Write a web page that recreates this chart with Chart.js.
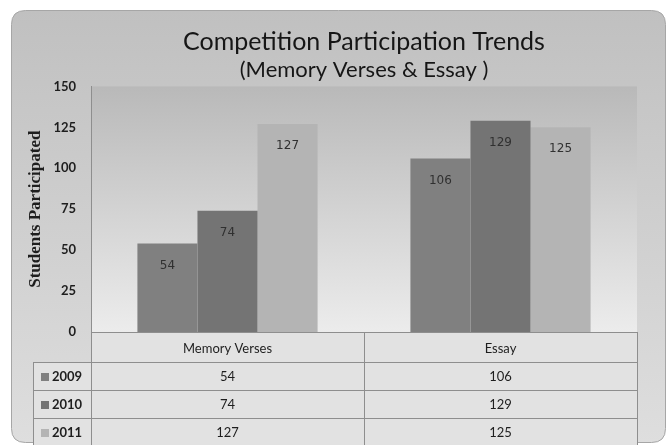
<!DOCTYPE html>
<html>
<head>
<meta charset="utf-8">
<script src="https://cdn.jsdelivr.net/npm/chart.js@4.4.0/dist/chart.umd.min.js"></script>
<style>
html, body { margin: 0; padding: 0; background: #fff; }
</style>
</head>
<body>
<canvas id="myChart" width="667" height="445"></canvas>
<script>
// chart values
const categories = ["Memory Verses", "Essay"];
const years = ["2009", "2010", "2011"];
const values2009 = [54, 106];
const values2010 = [74, 129];
const values2011 = [127, 125];
const yTicks = [0, 25, 50, 75, 100, 125, 150];

const barColors = ["#808080", "#747474", "#b4b4b4"];
const ROW_H = 28;

Chart.defaults.font.family = "Lato";

function roundRect(ctx, x, y, w, h, r) {
    ctx.beginPath();
    ctx.moveTo(x + r, y);
    ctx.lineTo(x + w - r, y);
    ctx.quadraticCurveTo(x + w, y, x + w, y + r);
    ctx.lineTo(x + w, y + h - r);
    ctx.quadraticCurveTo(x + w, y + h, x + w - r, y + h);
    ctx.lineTo(x + r, y + h);
    ctx.quadraticCurveTo(x, y + h, x, y + h - r);
    ctx.lineTo(x, y + r);
    ctx.quadraticCurveTo(x, y, x + r, y);
    ctx.closePath();
}

// background frame + plot area gradient + table cell fill
const backdrop = {
    id: "backdrop",
    beforeDraw(chart) {
        const ctx = chart.ctx, a = chart.chartArea, xs = chart.scales.x;
        ctx.save();
        ctx.fillStyle = "#fff";
        ctx.fillRect(0, 0, chart.width, chart.height);

        let g = ctx.createLinearGradient(0, 10, 0, 443);
        g.addColorStop(0, "#c0c0c0");
        g.addColorStop(1, "#dedede");
        roundRect(ctx, 11.5, 10.5, 654, 432, 14);
        ctx.fillStyle = g;
        ctx.fill();
        ctx.strokeStyle = "#a6a6a6";
        ctx.lineWidth = 1;
        ctx.stroke();

        g = ctx.createLinearGradient(0, a.top, 0, a.bottom);
        g.addColorStop(0, "#b9b9b9");
        g.addColorStop(1, "#ececec");
        ctx.fillStyle = g;
        ctx.fillRect(a.left, a.top, a.right - a.left, a.bottom - a.top);

        // table cells
        ctx.fillStyle = "#e2e2e2";
        ctx.fillRect(a.left, xs.top, a.right - a.left, xs.bottom - xs.top);
        ctx.fillRect(33, xs.bottom, a.right - 33, ROW_H * years.length);
        ctx.restore();
    },
    afterDraw(chart) {
        const ctx = chart.ctx, a = chart.chartArea, xs = chart.scales.x;
        const half = (xs.getPixelForValue(1) - xs.getPixelForValue(0)) / 2;
        const cols = [a.left];
        categories.forEach((c, i) => cols.push(xs.getPixelForValue(i) + half));
        const top = xs.bottom;
        const bottom = top + ROW_H * years.length;
        ctx.save();
        ctx.strokeStyle = "#8e8e8e";
        ctx.lineWidth = 1;
        ctx.beginPath();
        cols.forEach(cx => {
            ctx.moveTo(Math.round(cx) + 0.5, xs.top);
            ctx.lineTo(Math.round(cx) + 0.5, bottom);
        });
        ctx.moveTo(33.5, top);
        ctx.lineTo(33.5, bottom);
        for (let r = 0; r < years.length; r++) {
            const y = Math.round(top + r * ROW_H) + 0.5;
            ctx.moveTo(33, y);
            ctx.lineTo(cols[cols.length - 1], y);
        }
        ctx.stroke();

        // rows: legend key + values
        chart.data.datasets.forEach((ds, r) => {
            const cy = top + r * ROW_H + ROW_H / 2 + 1;
            ctx.fillStyle = ds.backgroundColor;
            ctx.fillRect(41, cy - 4, 8, 8);
            ctx.fillStyle = "#1e1e1e";
            ctx.font = "bold 13px Lato";
            ctx.textAlign = "left";
            ctx.textBaseline = "middle";
            ctx.fillText(ds.label, 52, cy);
            ctx.font = "13px Lato";
            ctx.textAlign = "center";
            ds.data.forEach((v, i) => {
                ctx.fillText(String(v), xs.getPixelForValue(i), cy);
            });
        });
        ctx.restore();
    },
    afterDatasetsDraw(chart) {
        const ctx = chart.ctx;
        ctx.save();
        ctx.font = "12px 'DejaVu Sans'";
        ctx.fillStyle = "#303030";
        ctx.textAlign = "center";
        ctx.textBaseline = "middle";
        chart.data.datasets.forEach((ds, d) => {
            chart.getDatasetMeta(d).data.forEach((bar, i) => {
                ctx.fillText(String(ds.data[i]), bar.x, bar.y + 22);
            });
        });
        ctx.restore();
    }
};

let myChart = document.getElementById("myChart").getContext("2d");
var chart = new Chart(myChart, {
    type: "bar",
    data: {
        labels: categories,
        datasets: [
            { label: years[0], data: values2009, backgroundColor: barColors[0] },
            { label: years[1], data: values2010, backgroundColor: barColors[1] },
            { label: years[2], data: values2011, backgroundColor: barColors[2] }
        ]
    },
    options: {
        responsive: false,
        animation: false,
        layout: { padding: { left: 0, right: 30, top: 0, bottom: 445 - 362 } },
        datasets: { bar: { categoryPercentage: 0.66, barPercentage: 1.0, borderWidth: 0 } },
        plugins: {
            legend: { display: false },
            tooltip: { enabled: false },
            title: {
                display: true,
                fullSize: false,
                text: "Competition Participation Trends",
                color: "#161616",
                font: { size: 25, weight: "normal" },
                padding: { top: 27, bottom: 0 }
            },
            subtitle: {
                display: true,
                fullSize: false,
                text: "(Memory Verses & Essay )",
                color: "#161616",
                font: { size: 22 },
                padding: { top: 0, bottom: 3 }
            }
        },
        scales: {
            x: {
                grid: { display: false, drawTicks: false },
                border: { display: true, color: "#8e8e8e" },
                ticks: { color: "#1e1e1e", font: { size: 13 }, padding: 9 },
                afterFit(scale) { scale.height = 30; }
            },
            y: {
                min: 0,
                max: 150,
                grid: { display: false, drawTicks: false },
                border: { display: true, color: "#8e8e8e" },
                afterBuildTicks(scale) { scale.ticks = yTicks.map(v => ({ value: v })); },
                ticks: { color: "#1e1e1e", font: { size: 13, weight: "bold" }, padding: 15 },
                title: {
                    display: true,
                    text: "Students Participated",
                    color: "#1e1e1e",
                    font: { family: "'Liberation Serif'", size: 17, weight: "bold" },
                    padding: { top: 25, bottom: 0 }
                },
                afterFit(scale) { scale.width = 91; }
            }
        }
    },
    plugins: [backdrop]
});
</script>
</body>
</html>
